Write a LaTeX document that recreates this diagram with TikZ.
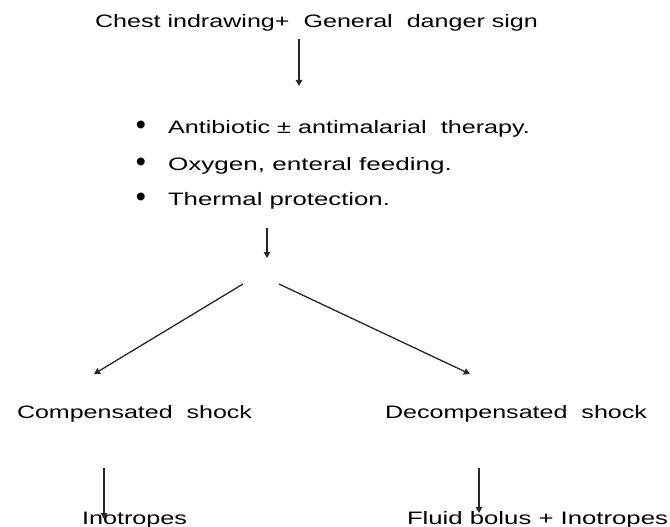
\documentclass[tikz,border=0pt]{standalone}
\usepackage{fontspec}
\setmainfont{Liberation Sans}
\usetikzlibrary{arrows.meta}
\newcommand{\fitw}[2]{\resizebox{#1}{\height}{#2}}
\tikzset{
  lbl/.style={anchor=base west, inner sep=0pt, outer sep=0pt, font=\fontsize{18}{22}\selectfont, text=black},
  bul/.style={anchor=center, inner sep=0pt, outer sep=0pt, font=\fontsize{18}{22}\selectfont},
  arr/.style={draw=black!85, line width=1.3pt, -{Triangle[length=6pt,width=6.5pt]}}
}
\begin{document}
\begin{tikzpicture}[x=1pt,y=-1pt]
\useasboundingbox (0,0) rectangle (670,527);
% texts
\node[lbl] (title) at (95,28) {\fitw{443pt}{Chest indrawing+\ \ General\ \ danger sign}};
\node[bul] (b1) at (141,128) {\scalebox{1.6}{\textbullet}};
\node[bul] (b2) at (141,165) {\scalebox{1.6}{\textbullet}};
\node[bul] (b3) at (141,200) {\scalebox{1.6}{\textbullet}};
\node[lbl] (t1) at (168,133) {\fitw{362pt}{Antibiotic ± antimalarial\ \ therapy.}};
\node[lbl] (t2) at (168,170) {\fitw{284pt}{Oxygen, enteral feeding.}};
\node[lbl] (t3) at (168,205) {\fitw{222pt}{Thermal protection.}};
\node[lbl] (comp) at (17,418) {\fitw{235pt}{Compensated\ \ shock}};
\node[lbl] (decomp) at (385,418) {\fitw{262pt}{Decompensated\ \ shock}};
\node[lbl] (ino) at (82,524) {\fitw{105pt}{Inotropes}};
\node[lbl] (fluid) at (407,524) {\fitw{261pt}{Fluid bolus + Inotropes}};
% arrow end points
\coordinate (a1s) at (299,39);
\coordinate (a1e) at (299,86);
\coordinate (a2s) at (267,228);
\coordinate (a2e) at (267,258);
\coordinate (ls) at (243,284);
\coordinate (le) at (94,374);
\coordinate (rs) at (279,284);
\coordinate (re) at (470,374);
\coordinate (cls) at (104,468);
\coordinate (cle) at (104,519);
\coordinate (crs) at (479,468);
\coordinate (cre) at (479,513);
% arrows
\draw[arr] (a1s) -- (a1e);
\draw[arr] (a2s) -- (a2e);
\draw[arr] (ls) -- (le);
\draw[arr] (rs) -- (re);
\draw[arr] (cls) -- (cle);
\draw[arr] (crs) -- (cre);
\end{tikzpicture}
\end{document}
